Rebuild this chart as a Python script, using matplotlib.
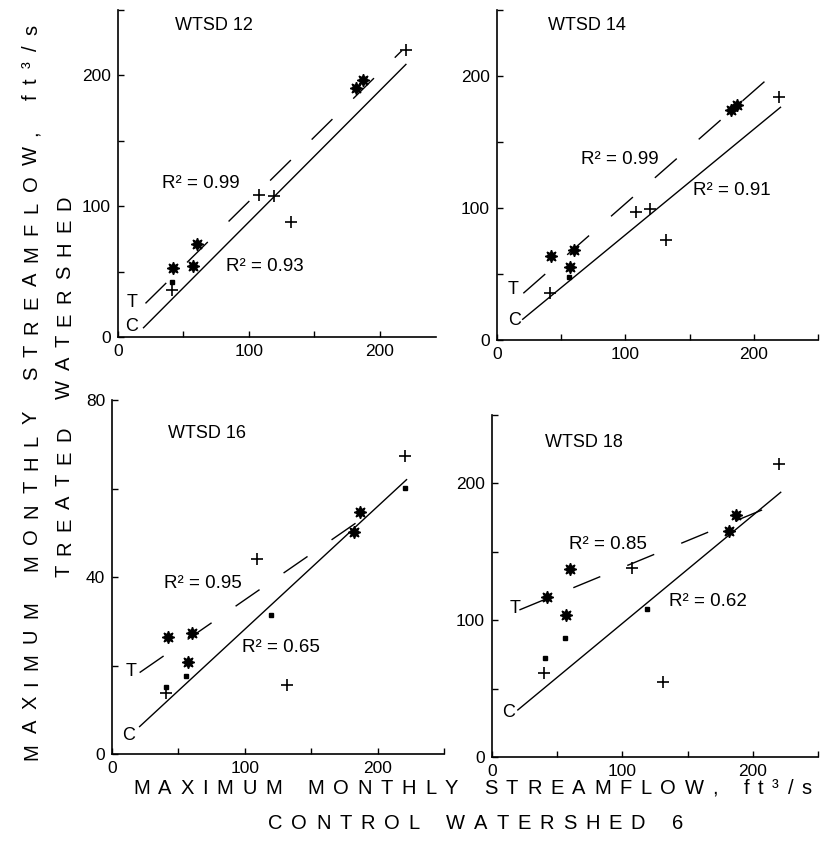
import matplotlib
matplotlib.use('Agg')
import matplotlib.pyplot as plt
from matplotlib.font_manager import FontProperties

W, H = 831, 841
plt.rcParams['font.family'] = ['Liberation Sans', 'DejaVu Sans']

# data
names = ['WTSD 12', 'WTSD 14', 'WTSD 16', 'WTSD 18']

star_x = [42, 57, 60, 182, 187]
star_y = [[52.4, 54.4, 71, 190.3, 196.2],
          [63.9, 55, 68.2, 174.2, 178],
          [26.5, 20.9, 27.3, 50.1, 54.8],
          [117.2, 103.8, 137.4, 165.4, 176.9]]

plus_x = [[41, 108, 119, 132, 220],
          [41, 108, 119, 132, 220],
          [41, 109, 132, 221],
          [40, 107, 131, 220]]
plus_y = [[35.9, 108.9, 107.6, 88, 219.6],
          [35.4, 97.2, 99.2, 75.8, 184.3],
          [13.7, 44.1, 15.5, 67.3],
          [61.2, 138.4, 54.6, 214]]

dot_x = [[41], [56], [41, 56, 120, 221], [41, 56, 119]]
dot_y = [[42.2], [48], [15.2, 17.6, 31.4, 60.1], [72.6, 87.2, 108]]

# fitted lines, end points
t_x = [[21, 217], [20.5, 221.5], [20.8, 200.5], [21, 221.4]]
t_y = [[25.7, 219], [35.4, 207], [18.4, 55.7], [107.5, 186.2]]
c_x = [[19.5, 220], [20, 220.8], [20.8, 221.8], [19.8, 221.4]]
c_y = [[7.1, 208.4], [15.7, 176.3], [6.2, 62], [34.4, 193.5]]

r2_t = ['0.99', '0.99', '0.95', '0.85']
r2_c = ['0.93', '0.91', '0.65', '0.62']

# layout, pixels: left, right, top, bottom
boxes = [(118, 436, 10, 337), (497, 818, 10, 340),
         (112, 444, 400, 754), (492, 818, 415, 757)]
xlims = [(0, 243), (0, 250), (0, 250), (0, 250)]
ylims = [(0, 250), (0, 250), (0, 80), (0, 250)]
yticks = [range(0, 251, 50), range(0, 251, 50), range(0, 81, 20), range(0, 251, 50)]
ylabs = [['0', '', '100', '', '200', ''], ['0', '', '100', '', '200', ''],
         ['0', '', '40', '', '80'], ['0', '', '100', '', '200', '']]

# label spots (data coords)
title_pos = [(43.7, 238), (39.7, 238), (41.8, 72.4), (40.7, 230)]
r2t_pos = [(33.8, 117.6), (65.1, 137), (39.3, 38.5), (59.2, 155.7)]
r2c_pos = [(82.7, 54), (152.8, 112.9), (97.7, 24), (135.6, 114)]
tlab_pos = [(6.5, 26.7), (8.6, 38.6), (10, 18.6), (13.4, 108.7)]
clab_pos = [(5.5, 8.4), (8.8, 14.4), (7.5, 4.1), (7.6, 32.5)]

fig = plt.figure(figsize=(W / 100, H / 100), dpi=100)

for i in range(4):
    l, r, t, b = boxes[i]
    ax = fig.add_axes([l / W, 1 - b / H, (r - l) / W, (b - t) / H])
    ax.set_xlim(*xlims[i])
    ax.set_ylim(*ylims[i])
    for s in ['top', 'right']:
        ax.spines[s].set_visible(False)
    for s in ['left', 'bottom']:
        ax.spines[s].set_linewidth(1.2)
    xt = [v for v in range(0, 251, 50) if v <= xlims[i][1]]
    ax.set_xticks(xt)
    ax.set_xticklabels(['0', '', '100', '', '200', ''][:len(xt)])
    ax.set_yticks(list(yticks[i]))
    ax.set_yticklabels(ylabs[i])
    ax.tick_params(direction='in', length=4, width=1, labelsize=12.5, pad=5)

    ax.plot(c_x[i], c_y[i], color='black', lw=1.0)
    ax.plot(t_x[i], t_y[i], color='black', lw=1.0, dashes=(21, 21))
    ax.plot(star_x, star_y[i], linestyle='none', marker=(8, 1, 0),
            ms=9, color='black')
    ax.plot(plus_x[i], plus_y[i], linestyle='none', marker='+',
            ms=8, mew=1.2, color='black')
    ax.plot(dot_x[i], dot_y[i], linestyle='none', marker='s',
            ms=2.2, color='black')

    ax.text(*title_pos[i], names[i], fontsize=13, va='center')
    ax.text(*r2t_pos[i], 'R² = ' + r2_t[i], fontsize=13.5, va='center')
    ax.text(*r2c_pos[i], 'R² = ' + r2_c[i], fontsize=13.5, va='center')
    ax.text(*tlab_pos[i], 'T', fontsize=13, va='center')
    ax.text(*clab_pos[i], 'C', fontsize=13, va='center')

# letter-spaced axis titles
rend = fig.canvas.get_renderer()


def spaced(s, start, end, base, size, vertical=False):
    fp = FontProperties(family='Liberation Sans', size=size)
    widths = []
    for ch in s:
        if ch == ' ':
            widths.append(0)
        else:
            widths.append(rend.get_text_width_height_descent(ch, fp, ismath=False)[0])
    gaps = []
    for k in range(len(s) - 1):
        gaps.append(1.5 if (s[k] == ' ' or s[k + 1] == ' ') else 1.0)
    g = (abs(end - start) - sum(widths)) / sum(gaps)
    p = 0
    for k, ch in enumerate(s):
        if ch != ' ':
            if vertical:
                fig.text(base / W, 1 - (start - p) / H, ch, fontproperties=fp,
                         rotation=90, rotation_mode='anchor',
                         ha='left', va='baseline')
            else:
                fig.text((start + p) / W, 1 - base / H, ch, fontproperties=fp,
                         ha='left', va='baseline')
        p += widths[k]
        if k < len(gaps):
            p += gaps[k] * g


spaced('MAXIMUM MONTHLY STREAMFLOW, ft³/s', 133, 812, 794, 14.5)
spaced('CONTROL WATERSHED 6', 268, 683, 829, 14.5)
spaced('MAXIMUM MONTHLY STREAMFLOW, ft³/s', 760, 25, 37, 14.5, vertical=True)
spaced('TREATED WATERSHED', 577, 195, 70, 14.5, vertical=True)

fig.savefig('out.png', dpi=100, facecolor='white')
